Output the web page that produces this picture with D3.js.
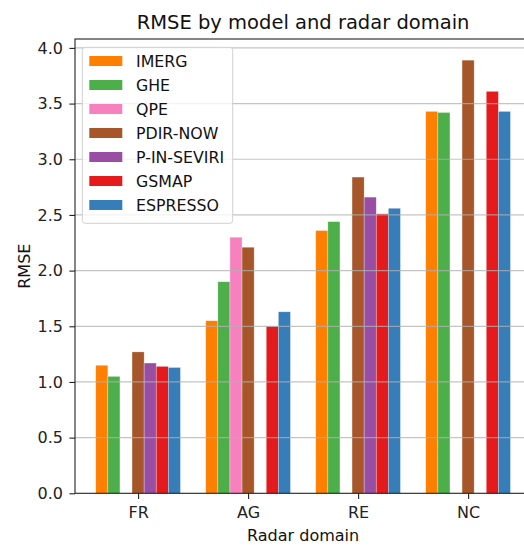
<!DOCTYPE html>
<html>
<head>
<meta charset="utf-8">
<script src="https://cdn.jsdelivr.net/npm/d3@7"></script>
<style>
  html, body { margin: 0; padding: 0; background: #fff; }
  svg { display: block; font-family: "DejaVu Sans", sans-serif; }
</style>
</head>
<body>
<svg id="chart" width="524" height="545"></svg>
<script>
// Radar domains on the x axis
const domains = ["FR", "AG", "RE", "NC"];
// Precipitation products, one bar each per domain
const models = ["IMERG", "GHE", "QPE", "PDIR-NOW", "P-IN-SEVIRI", "GSMAP", "ESPRESSO"];
const colors = ["#ff7f00", "#4daf4a", "#f781bf", "#a65628", "#984ea3", "#e41a1c", "#377eb8"];

// RMSE per model, in domain order (null = no data for that domain)
const rmseIMERG     = [1.15, 1.55, 2.36, 3.43];
const rmseGHE       = [1.05, 1.90, 2.44, 3.42];
const rmseQPE       = [null, 2.30, null, null];
const rmsePDIRNOW   = [1.27, 2.21, 2.84, 3.89];
const rmsePINSEVIRI = [1.17, null, 2.66, null];
const rmseGSMAP     = [1.14, 1.50, 2.51, 3.61];
const rmseESPRESSO  = [1.13, 1.63, 2.56, 3.43];

const yTicks = [0, 0.5, 1.0, 1.5, 2.0, 2.5, 3.0, 3.5, 4.0];

const series = [rmseIMERG, rmseGHE, rmseQPE, rmsePDIRNOW, rmsePINSEVIRI, rmseGSMAP, rmseESPRESSO];

const svg = d3.select("#chart");
const plotL = 75, plotR = 531.2, plotT = 39, plotB = 493.3;
const barW = 0.11;
const FONT = "DejaVu Sans, sans-serif";

const x = d3.scaleLinear().domain([-0.5735, 3.5735]).range([plotL, plotR]);
const y = d3.scaleLinear().domain([0, 4.08]).range([plotB, plotT]);

// bars
const bars = [];
series.forEach((vals, m) => {
  vals.forEach((v, d) => {
    if (v != null) bars.push({ m, d, v });
  });
});
svg.append("g").selectAll("rect").data(bars).join("rect")
  .attr("x", b => x(b.d + (b.m - 3) * barW - barW / 2))
  .attr("width", b => x(barW) - x(0))
  .attr("y", b => y(b.v))
  .attr("height", b => y(0) - y(b.v))
  .attr("fill", b => colors[b.m])
  .attr("stroke", "#fff")
  .attr("stroke-width", 0.6)
  .attr("stroke-opacity", 0.5);

// horizontal grid on top of the bars
svg.append("g").selectAll("line").data(yTicks.filter(t => t > 0)).join("line")
  .attr("x1", plotL).attr("x2", plotR)
  .attr("y1", d => y(d)).attr("y2", d => y(d))
  .attr("stroke", "#b0b0b0").attr("stroke-width", 1.2).attr("stroke-opacity", 0.75);

// y axis
const yAxis = d3.axisLeft(y).tickValues(yTicks).tickFormat(d3.format(".1f")).tickSize(5.6).tickPadding(6.5);
const gy = svg.append("g").attr("transform", `translate(${plotL},0)`).call(yAxis);
gy.select(".domain").remove();
gy.selectAll(".tick line").attr("stroke", "#222").attr("stroke-width", 1.1);
gy.selectAll(".tick text").attr("font-size", 16).attr("fill", "#222")
  .attr("font-family", FONT);

// x axis
const xAxis = d3.axisBottom(x).tickValues(d3.range(domains.length)).tickFormat(i => domains[i]).tickSize(5.6);
const gx = svg.append("g").attr("transform", `translate(0,${plotB})`).call(xAxis);
gx.select(".domain").remove();
gx.selectAll(".tick line").attr("stroke", "#222").attr("stroke-width", 1.1);
gx.selectAll(".tick text").attr("font-size", 16).attr("fill", "#222")
  .attr("font-family", FONT).attr("y", 24.4).attr("dy", null);

// spines
svg.append("rect").attr("x", plotL).attr("y", plotT)
  .attr("width", plotR - plotL).attr("height", plotB - plotT)
  .attr("fill", "none").attr("stroke", "#222").attr("stroke-width", 1.1);

// titles
svg.append("text").attr("x", (plotL + plotR) / 2).attr("y", 29)
  .attr("text-anchor", "middle").attr("font-size", 19.5).attr("fill", "#111")
  .text("RMSE by model and radar domain");
svg.append("text").attr("x", (plotL + plotR) / 2).attr("y", 540.7)
  .attr("text-anchor", "middle").attr("font-size", 16).attr("fill", "#111")
  .text("Radar domain");
svg.append("text").attr("transform", `translate(30,${(plotT + plotB) / 2}) rotate(-90)`)
  .attr("text-anchor", "middle").attr("font-size", 16).attr("fill", "#111")
  .text("RMSE");

// legend
const lg = svg.append("g");
lg.append("rect").attr("x", 82.3).attr("y", 47.3).attr("width", 150.4).attr("height", 176)
  .attr("rx", 3).attr("fill", "#fff").attr("fill-opacity", 0.8)
  .attr("stroke", "#d0d0d0").attr("stroke-width", 1);
const rows = lg.selectAll("g.row").data(models).join("g").attr("class", "row")
  .attr("transform", (d, i) => `translate(0,${56 + i * 24})`);
rows.append("rect").attr("x", 89.3).attr("y", 0).attr("width", 33).attr("height", 10)
  .attr("fill", (d, i) => colors[i]);
rows.append("text").attr("x", 136).attr("y", 10.6).attr("font-size", 15.8).attr("fill", "#111")
  .text(d => d);
</script>
</body>
</html>
